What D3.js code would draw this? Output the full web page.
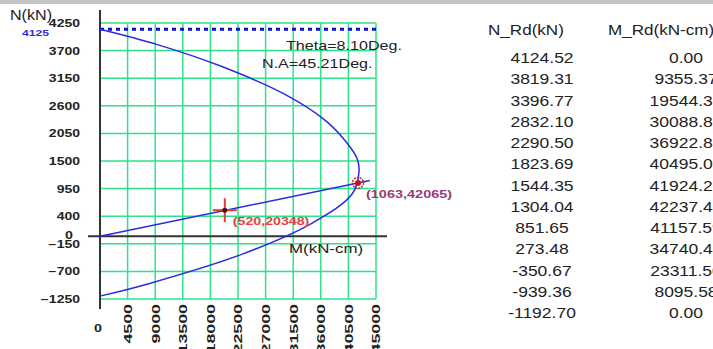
<!DOCTYPE html>
<html><head><meta charset="utf-8">
<script src="https://cdn.jsdelivr.net/npm/d3@7"></script>
<style>html,body{margin:0;padding:0;background:#fff;overflow:hidden}</style>
</head><body>
<svg id="c" width="713" height="349"></svg>
<script>
// ---- data ----
const nRd = [4124.52, 3819.31, 3396.77, 2832.10, 2290.50, 1823.69, 1544.35, 1304.04, 851.65, 273.48, -350.67, -939.36, -1192.70];
const mRd = [0.00, 9355.37, 19544.36, 30088.85, 36922.84, 40495.02, 41924.23, 42237.45, 41157.59, 34740.40, 23311.50, 8095.58, 0.00];
const yTicks = [4250, 3700, 3150, 2600, 2050, 1500, 950, 400, -150, -700, -1250];
const xTicks = [4500, 9000, 13500, 18000, 22500, 27000, 31500, 36000, 40500, 45000];
const nMax = 4125;
const loadLineM = [0, 44000];
const loadLineN = [0, 1112];
const capPoint = {n: 1063, m: 42065};
const loadPoint = {n: 520, m: 20348};
const tableHeaders = ["N_Rd(kN)", "M_Rd(kN-cm)"];
const thetaText = "Theta=8.10Deg.";
const naText = "N.A=45.21Deg.";

const svg = d3.select("#c");
const FONT = "'Liberation Sans', Arial, sans-serif";
const x = d3.scaleLinear().domain([0, 45000]).range([100, 376]);
const y = d3.scaleLinear().domain([-1250, 4250]).range([299, 23]);

// top gray strip
svg.append("rect").attr("x", 0).attr("y", 0).attr("width", 713).attr("height", 4).attr("fill", "#c4c4c4");

function txt(str, px, py, o) {
  o = o || {};
  const t = svg.append("text")
    .attr("transform", `translate(${px},${py})${o.rot ? " rotate(" + o.rot + ")" : ""} scale(${o.sx || 1},1)`)
    .attr("text-anchor", o.anchor || "start")
    .attr("font-family", FONT)
    .attr("font-size", o.size || 12)
    .attr("font-weight", o.weight || "normal")
    .attr("fill", o.fill || "#222")
    .text(str);
  if (o.dy) t.attr("dy", o.dy);
  return t;
}

// grid
const grid = svg.append("g").attr("stroke", "#2de38a").attr("stroke-width", 1.5);
grid.selectAll("line.h").data(yTicks).join("line")
  .attr("x1", x(0)).attr("x2", x(45000)).attr("y1", d => y(d)).attr("y2", d => y(d));
grid.selectAll("line.v").data(xTicks).join("line")
  .attr("y1", y(4250)).attr("y2", y(-1250)).attr("x1", d => x(d)).attr("x2", d => x(d));

// y axis labels
const gy = svg.append("g").attr("transform", `translate(${x(0) - 20},0)`)
  .call(d3.axisLeft(y).tickValues(yTicks).tickSize(0).tickPadding(0).tickFormat(d3.format("d")));
gy.select(".domain").remove();
gy.selectAll("text").attr("x", 0).attr("dy", "0.35em")
  .attr("transform", "scale(1.4,1)")
  .attr("font-family", FONT).attr("font-size", 10).attr("font-weight", "bold").attr("fill", "#222");

// x axis labels (rotated)
const gx = svg.append("g").attr("transform", `translate(0,${y(-1250) + 5})`)
  .call(d3.axisBottom(x).tickValues(xTicks).tickSize(0).tickPadding(0).tickFormat(d3.format("d")));
gx.select(".domain").remove();
gx.selectAll("text").attr("y", 0).attr("dy", "0.35em").attr("text-anchor", "end")
  .attr("transform", "rotate(-90) scale(1.62,1)")
  .attr("font-family", FONT).attr("font-size", 11).attr("font-weight", "bold").attr("fill", "#222");

// axes lines
svg.append("line").attr("x1", x(0)).attr("x2", x(0)).attr("y1", 10).attr("y2", 309)
  .attr("stroke", "#333").attr("stroke-width", 2);
svg.append("line").attr("x1", 88).attr("x2", 387).attr("y1", y(0)).attr("y2", y(0))
  .attr("stroke", "#333").attr("stroke-width", 2);

// dotted Nmax line
svg.append("line").attr("x1", x(0)).attr("x2", x(45000)).attr("y1", y(nMax)).attr("y2", y(nMax))
  .attr("stroke", "#1010d0").attr("stroke-width", 3).attr("stroke-dasharray", "4,4");

// interaction curve
const pts = nRd.map((n, i) => ({n, m: mRd[i]}));
const line = d3.line().x(d => x(d.m)).y(d => y(d.n)).curve(d3.curveCatmullRom.alpha(0.5));
svg.append("path").attr("d", line(pts)).attr("fill", "none").attr("stroke", "#2b2be0").attr("stroke-width", 1.5);

// load line
const ll = loadLineM.map((m, i) => ({m, n: loadLineN[i]}));
svg.append("path").attr("d", d3.line().x(d => x(d.m)).y(d => y(d.n))(ll))
  .attr("fill", "none").attr("stroke", "#2b2be0").attr("stroke-width", 1.5);

// load point cross
const lx = x(loadPoint.m), ly = y(loadPoint.n);
svg.append("line").attr("x1", lx - 12).attr("x2", lx + 12).attr("y1", ly).attr("y2", ly).attr("stroke", "#e83838").attr("stroke-width", 2);
svg.append("line").attr("x1", lx).attr("x2", lx).attr("y1", ly - 12).attr("y2", ly + 12).attr("stroke", "#e83838").attr("stroke-width", 2);
svg.append("circle").attr("cx", lx).attr("cy", ly).attr("r", 2.5).attr("fill", "#501010");
txt(`(${loadPoint.n},${loadPoint.m})`, lx + 8, ly + 15, {size: 10, weight: "bold", fill: "#e84040", sx: 1.42});

// capacity point
const cx = x(capPoint.m), cy = y(capPoint.n);
svg.append("circle").attr("cx", cx).attr("cy", cy).attr("r", 5.5).attr("fill", "none")
  .attr("stroke", "#a03060").attr("stroke-width", 1.5).attr("stroke-dasharray", "2,1");
svg.append("circle").attr("cx", cx).attr("cy", cy).attr("r", 3).attr("fill", "#d01010");
txt(`(${capPoint.n},${capPoint.m})`, cx + 8, cy + 15, {size: 10, weight: "bold", fill: "#9a3a7a", sx: 1.45});

// labels
txt("N(kN)", 10, 20, {size: 14, sx: 1.15, fill: "#222"});
txt(String(nMax), 22, 36, {size: 9, weight: "bold", fill: "#3030d0", sx: 1.35});
txt("0", 69, 239, {size: 11, weight: "bold", anchor: "middle", sx: 1.3});
txt("0", 98, 332, {size: 11, weight: "bold", anchor: "middle", sx: 1.3});
txt("M(kN-cm)", 289, 253, {size: 13, sx: 1.3});
txt(thetaText, 286, 50, {size: 13, sx: 1.24});
txt(naText, 262, 68, {size: 13, sx: 1.24});

// table
txt(tableHeaders[0], 488, 35, {size: 14, sx: 1.22});
txt(tableHeaders[1], 608, 35, {size: 14, sx: 1.22});
const rowY = d3.scaleLinear().domain([0, nRd.length - 1]).range([63, 318]);
nRd.forEach((n, i) => {
  txt(n.toFixed(2), 542, rowY(i), {size: 14, anchor: "middle", sx: 1.25});
  txt(mRd[i].toFixed(2), 686, rowY(i), {size: 14, anchor: "middle", sx: 1.25});
});
</script>
</body></html>
